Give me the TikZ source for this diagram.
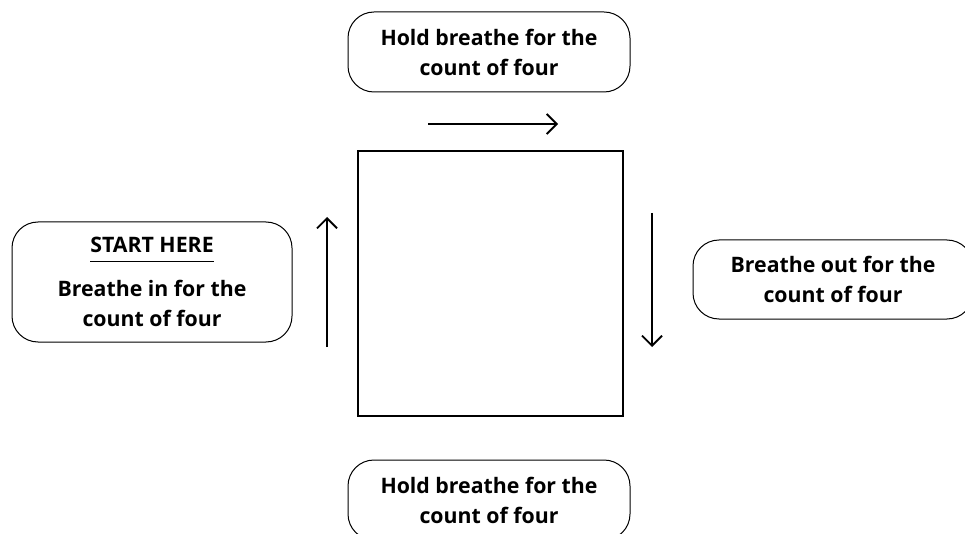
\documentclass[tikz,border=0pt]{standalone}
\usepackage{fontspec}
\setmainfont{Open Sans}
\usetikzlibrary{arrows.meta}
\begin{document}
\begin{tikzpicture}[x=1pt,y=-1pt,
  bubble/.style={draw, line width=1pt, rounded corners=26pt,
    font=\fontsize{21.3}{30}\selectfont\bfseries, align=center, inner sep=0pt},
  sq/.style={draw, line width=2pt, minimum width=265pt, minimum height=265pt, inner sep=0pt},
  flow/.style={line width=1.8pt, -{Straight Barb[length=10pt,width=20pt,line width=1.8pt]}}
]
\useasboundingbox (0,0) rectangle (965,534);
\begin{scope}
\clip (0,0) rectangle (965,534);
\node[bubble, minimum width=282pt, minimum height=80pt] (top) at (489,52)
  {Hold breathe for the\\count of four};
\node[bubble, minimum width=280pt, minimum height=120pt] (left) at (152,282)
  {\underline{START HERE\rule[-7pt]{0pt}{0pt}}\\[14pt]Breathe in for the\\count of four};
\node[bubble, minimum width=280pt, minimum height=79pt] (right) at (833,279.5)
  {Breathe out for the\\count of four};
\node[bubble, minimum width=282pt, minimum height=80pt] (bottom) at (489,500)
  {Hold breathe for the\\count of four};
\node[sq] (box) at (490.5,283.5) {};
\coordinate (ts) at (428,124);
\coordinate (te) at (558,124);
\coordinate (ls) at (327,347);
\coordinate (le) at (327,217);
\coordinate (rs) at (652,213);
\coordinate (re) at (652,347);
\draw[flow] (ts) -- (te);
\draw[flow] (ls) -- (le);
\draw[flow] (rs) -- (re);
\end{scope}
\end{tikzpicture}
\end{document}
